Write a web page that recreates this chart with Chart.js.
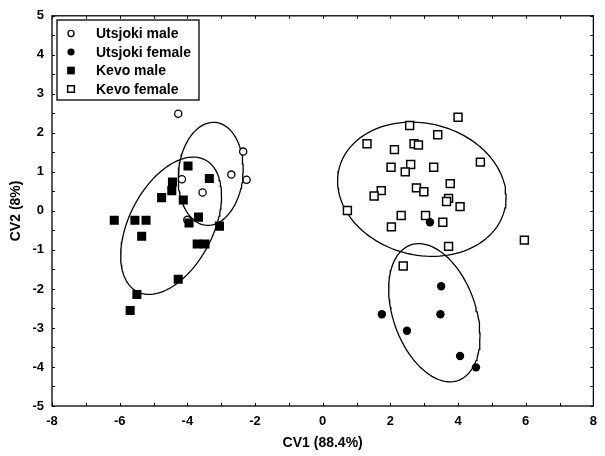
<!DOCTYPE html>
<html>
<head>
<meta charset="utf-8">
<script src="https://cdn.jsdelivr.net/npm/chart.js@4/dist/chart.umd.min.js"></script>
<style>
  html, body { margin: 0; padding: 0; background: #fff; }
  #wrap { width: 605px; height: 456px; }
</style>
</head>
<body>
<div id="wrap"><canvas id="chart1" width="605" height="456"></canvas></div>
<script>
// scores
var utsMaleX = [-4.27, -2.35, -2.70, -2.25, -4.16, -3.55, -4.00];
var utsMaleY = [2.49, 1.52, 0.93, 0.80, 0.81, 0.47, -0.23];
var utsFemX = [3.17, 3.50, 1.75, 3.48, 2.49, 4.06, 4.53];
var utsFemY = [-0.29, -1.93, -2.65, -2.65, -3.07, -3.72, -4.01];
var kevoMaleX = [-3.98, -3.35, -4.44, -4.46, -4.76, -4.12, -6.16, -5.55, -5.22, -3.95, -3.67, -3.05, -5.35, -3.71, -3.48, -4.27, -5.49, -5.69];
var kevoMaleY = [1.15, 0.83, 0.74, 0.52, 0.34, 0.28, -0.24, -0.24, -0.24, -0.31, -0.16, -0.39, -0.65, -0.85, -0.85, -1.75, -2.14, -2.55];
var kevoFemX = [4.00, 2.57, 3.40, 1.31, 2.70, 2.83, 2.12, 4.66, 2.02, 2.60, 2.44, 3.28, 3.77, 1.73, 1.52, 2.77, 2.99, 3.72, 3.66, 4.06, 0.73, 2.32, 3.04, 3.55, 2.03, 3.72, 5.96, 2.38];
var kevoFemY = [2.40, 2.19, 1.95, 1.72, 1.72, 1.69, 1.57, 1.25, 1.12, 1.19, 1.00, 1.12, 0.70, 0.52, 0.38, 0.59, 0.49, 0.32, 0.24, 0.11, 0.01, -0.12, -0.12, -0.29, -0.41, -0.91, -0.75, -1.41];

var groupNames = ["Utsjoki male", "Utsjoki female", "Kevo male", "Kevo female"];

// confidence ellipses: centre, half extent in x and y, tilt phase (deg)
var ellCx = [-3.31, 3.30, -4.48, 2.93];
var ellCy = [0.95, -2.61, -0.38, 0.555];
var ellW = [0.96, 1.35, 1.49, 2.49];
var ellH = [1.32, 1.77, 1.76, 1.72];
var ellPhi = [85, 110, 64, 97];

var xTickVals = [-8, -6, -4, -2, 0, 2, 4, 6, 8];
var yTickVals = [-5, -4, -3, -2, -1, 0, 1, 2, 3, 4, 5];

function pts(xs, ys) {
    var out = [];
    for (var i = 0; i < xs.length; i++) out.push({x: xs[i], y: ys[i]});
    return out;
}

function ellipsePts(k) {
    var out = [];
    var ph = ellPhi[k] * Math.PI / 180;
    for (var i = 0; i <= 120; i++) {
        var t = i / 120 * 2 * Math.PI;
        out.push({x: ellCx[k] + ellW[k] * Math.cos(t), y: ellCy[k] + ellH[k] * Math.cos(t - ph)});
    }
    return out;
}

var styles = [
    {pointStyle: "circle", radius: 3.6, bg: "#fff", bw: 1.3},
    {pointStyle: "circle", radius: 4.2, bg: "#000", bw: 0},
    {pointStyle: "rect", radius: 6.4, bg: "#000", bw: 0},
    {pointStyle: "rect", radius: 5.6, bg: "#fff", bw: 1.5}
];
var xs = [utsMaleX, utsFemX, kevoMaleX, kevoFemX];
var ys = [utsMaleY, utsFemY, kevoMaleY, kevoFemY];
var drawOrder = [2, 0, 1, 3];

var datasets = [];
for (var g = 0; g < 4; g++) {
    datasets.push({
        label: groupNames[g],
        data: pts(xs[g], ys[g]),
        pointStyle: styles[g].pointStyle,
        pointRadius: styles[g].radius,
        pointHoverRadius: styles[g].radius,
        pointBackgroundColor: styles[g].bg,
        pointBorderColor: "#000",
        pointBorderWidth: styles[g].bw,
        showLine: false,
        order: drawOrder[g]
    });
}
for (var k = 0; k < 4; k++) {
    datasets.push({
        label: "ellipse" + k,
        data: ellipsePts(k),
        showLine: true,
        borderColor: "#000",
        borderWidth: 1.3,
        pointRadius: 0,
        fill: false,
        tension: 0,
        order: 5
    });
}

var frameAndTicks = {
    id: "frameAndTicks",
    afterDraw: function(chart) {
        var ctx = chart.ctx, a = chart.chartArea;
        var sx = chart.scales.x, sy = chart.scales.y;
        ctx.save();
        ctx.strokeStyle = "#000";
        ctx.lineWidth = 1.3;
        ctx.strokeRect(a.left, a.top, a.right - a.left, a.bottom - a.top);
        ctx.lineWidth = 1;
        ctx.beginPath();
        for (var v = -8; v <= 8; v++) {
            var px = Math.round(sx.getPixelForValue(v)) + 0.5;
            ctx.moveTo(px, a.bottom); ctx.lineTo(px, a.bottom - 3);
            ctx.moveTo(px, a.top); ctx.lineTo(px, a.top + 3);
        }
        for (var w = -10; w <= 10; w++) {
            var py = Math.round(sy.getPixelForValue(w / 2)) + 0.5;
            ctx.moveTo(a.left, py); ctx.lineTo(a.left + 3, py);
            ctx.moveTo(a.right, py); ctx.lineTo(a.right - 3, py);
        }
        ctx.stroke();

        // legend box
        var bx = 57, by = 20, bw = 142, bh = 80;
        ctx.fillStyle = "#fff";
        ctx.fillRect(bx, by, bw, bh);
        ctx.lineWidth = 1.3;
        ctx.strokeRect(bx, by, bw, bh);
        ctx.font = "bold 14px 'Liberation Sans', Arial, sans-serif";
        ctx.textBaseline = "middle";
        for (var g = 0; g < 4; g++) {
            var ly = by + 13.5 + g * 18.5;
            ctx.fillStyle = styles[g].bg;
            ctx.strokeStyle = "#000";
            ctx.lineWidth = styles[g].bw;
            Chart.helpers.drawPoint(ctx, {
                pointStyle: styles[g].pointStyle,
                radius: styles[g].radius * 0.85,
                rotation: 0,
                borderWidth: styles[g].bw
            }, 71, ly);
            ctx.fillStyle = "#000";
            ctx.fillText(groupNames[g], 96, ly + 1);
        }
        ctx.restore();
    }
};

var tickFont = {family: "'Liberation Sans', Arial, sans-serif", size: 13, weight: "bold"};
var titleFont = {family: "'Liberation Sans', Arial, sans-serif", size: 14, weight: "bold"};

new Chart(document.getElementById("chart1"), {
    type: "scatter",
    data: {datasets: datasets},
    options: {
        responsive: false,
        animation: false,
        events: [],
        layout: {padding: {left: 0, right: 4, top: 15, bottom: 0}},
        plugins: {legend: {display: false}, tooltip: {enabled: false}},
        scales: {
            x: {
                type: "linear", min: -8, max: 8,
                afterFit: function(s) { s.height = 50; },
                afterBuildTicks: function(s) { s.ticks = xTickVals.map(function(v) { return {value: v}; }); },
                grid: {display: false, drawTicks: false},
                border: {display: false},
                ticks: {color: "#000", font: tickFont, padding: 8, maxRotation: 0},
                title: {display: true, text: "CV1 (88.4%)", color: "#000", font: titleFont, padding: {top: 0, bottom: 4}}
            },
            y: {
                type: "linear", min: -5, max: 5,
                afterFit: function(s) { s.width = 52; },
                afterBuildTicks: function(s) { s.ticks = yTickVals.map(function(v) { return {value: v}; }); },
                grid: {display: false, drawTicks: false},
                border: {display: false},
                ticks: {color: "#000", font: tickFont, padding: 8},
                title: {display: true, text: "CV2 (8%)", color: "#000", font: titleFont, padding: {top: 8, bottom: 0}}
            }
        }
    },
    plugins: [frameAndTicks]
});
</script>
</body>
</html>
